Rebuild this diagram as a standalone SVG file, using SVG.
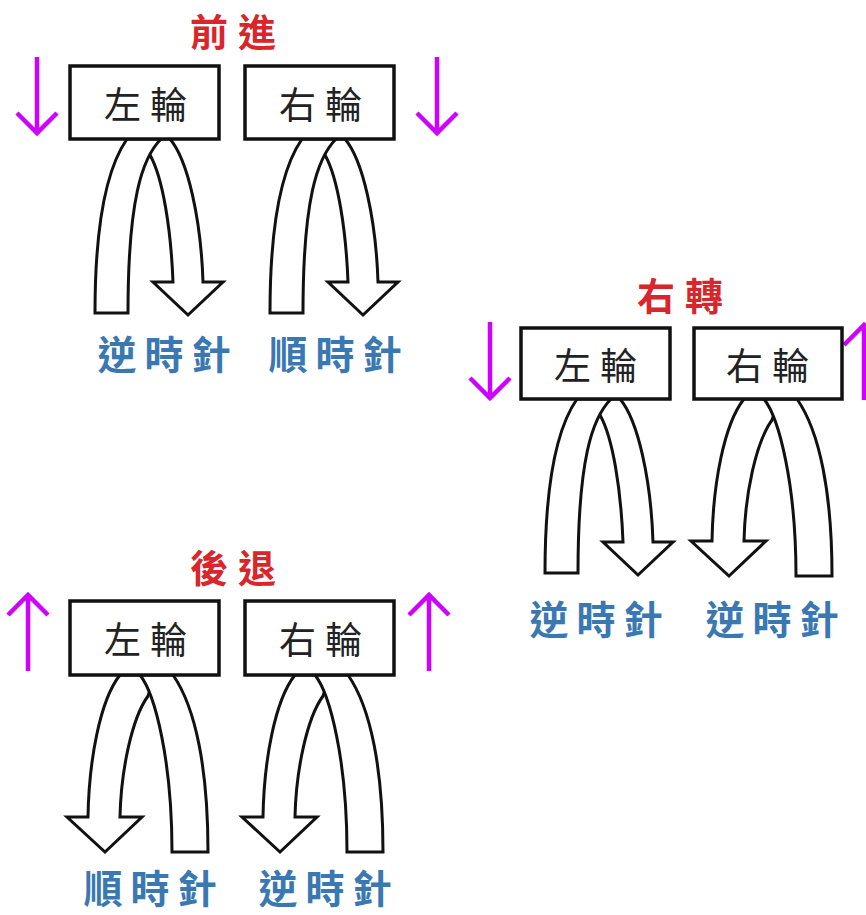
<svg xmlns="http://www.w3.org/2000/svg" xmlns:xlink="http://www.w3.org/1999/xlink" width="866" height="915" viewBox="0 0 866 915">
<style>
.band{fill:#fff;stroke:#111;stroke-width:3;stroke-linejoin:miter}
.box{fill:#fff;stroke:#111;stroke-width:3.5}
.wheel{font-family:"Noto Sans CJK TC","Noto Sans CJK SC",sans-serif;font-size:37px;fill:#222;text-anchor:middle;letter-spacing:9px}
.title{font-family:"Noto Sans CJK TC","Noto Sans CJK SC",sans-serif;font-size:38px;font-weight:bold;fill:#d8262c;text-anchor:middle;letter-spacing:10px}
.dir{font-family:"Noto Sans CJK TC","Noto Sans CJK SC",sans-serif;font-size:39px;font-weight:bold;fill:#3a78b2;text-anchor:middle;letter-spacing:8px}
.mv{fill:none;stroke:#d000ff;stroke-width:4.5}
</style>
<defs>
<g id="turnA">
<path class="band" d="M140,139 L170,139 C188,160 201,220 203,282 L223,282 L188,315 L153,282 L173,282 C171,230 163,178 150,155 L140,139 Z"/>
<path class="band" d="M95,313 C95,235 104,172 127,139 L161,139 C142,158 128,200 128,313 Z"/>
</g>
<g id="turnB">
<path class="band" d="M155,675 L120,675 C100,700 89,760 88,817 L67,817 L105,852 L142,817 L120,817 C121,770 132,718 148,696 L155,675 Z"/>
<path class="band" d="M208,852 C208,770 196,708 173,675 L140,675 C155,694 172,760 172,852 Z"/>
</g>
</defs>
<rect width="866" height="915" fill="#fff"/>
<g id="connectors">
<use xlink:href="#turnA"/>
<use xlink:href="#turnA" transform="translate(175,0)"/>
<use xlink:href="#turnA" transform="translate(450,260)"/>
<use xlink:href="#turnB" transform="translate(624,-276)"/>
<use xlink:href="#turnB"/>
<use xlink:href="#turnB" transform="translate(175,0)"/>
<path class="mv" d="M37,57 V133 M17,113 L37,133 L57,113"/>
<path class="mv" d="M437,57 V133 M417,113 L437,133 L457,113"/>
<path class="mv" d="M490,322 V398 M470,378 L490,398 L510,378"/>
<path class="mv" d="M864,400 V325 M844,345 L864,325 L884,345"/>
<path class="mv" d="M28,671 V595 M8,615 L28,595 L48,615"/>
<path class="mv" d="M429,671 V595 M409,615 L429,595 L449,615"/>
</g>
<g id="forward">
<text class="title" x="238" y="46">前進</text>
<g id="fw-left"><rect class="box" x="70" y="66" width="149" height="73"/><text class="wheel" x="150" y="119">左輪</text></g>
<g id="fw-right"><rect class="box" x="245" y="66" width="149" height="73"/><text class="wheel" x="325" y="119">右輪</text></g>
<text class="dir" x="168" y="369">逆時針</text>
<text class="dir" x="339" y="369">順時針</text>
</g>
<g id="turnright">
<text class="title" x="685" y="310">右轉</text>
<g id="tr-left"><rect class="box" x="521" y="328" width="149" height="71"/><text class="wheel" x="600" y="380">左輪</text></g>
<g id="tr-right"><rect class="box" x="694" y="328" width="148" height="71"/><text class="wheel" x="772" y="380">右輪</text></g>
<text class="dir" x="600" y="634">逆時針</text>
<text class="dir" x="776" y="634">逆時針</text>
</g>
<g id="backward">
<text class="title" x="238" y="582">後退</text>
<g id="bw-left"><rect class="box" x="70" y="601" width="149" height="74"/><text class="wheel" x="150" y="654">左輪</text></g>
<g id="bw-right"><rect class="box" x="245" y="601" width="149" height="74"/><text class="wheel" x="325" y="654">右輪</text></g>
<text class="dir" x="154" y="903">順時針</text>
<text class="dir" x="329" y="903">逆時針</text>
</g>
</svg>
